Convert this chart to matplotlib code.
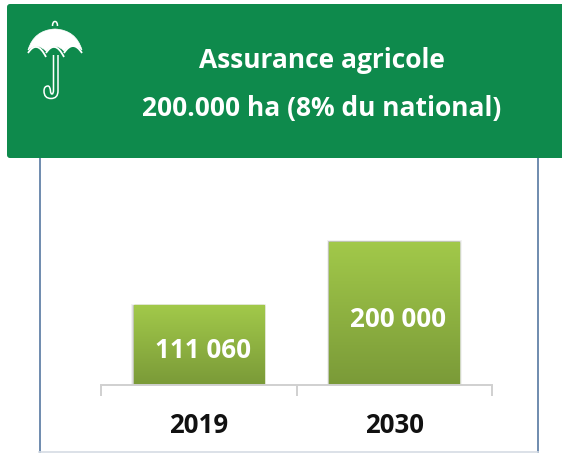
import numpy as np
import matplotlib
matplotlib.use("Agg")
import matplotlib.pyplot as plt
from matplotlib.patches import FancyBboxPatch, PathPatch, Rectangle
from matplotlib.path import Path
from matplotlib.colors import LinearSegmentedColormap

categories = ["2019", "2030"]
values = [111060, 200000]
value_labels = ["111 060", "200 000"]
title_lines = ["Assurance agricole", "200.000 ha (8% du national)"]

W, H = 562, 453
plt.rcParams["font.family"] = ["Open Sans", "DejaVu Sans"]
fig = plt.figure(figsize=(W / 100, H / 100), dpi=100, facecolor="white")

# pixel overlay for decoration
bg = fig.add_axes([0, 0, 1, 1], zorder=0)
bg.set_xlim(0, W); bg.set_ylim(H, 0); bg.axis("off")
for x in (39.5, 538):
    bg.plot([x, x], [150, H], color="#6F8BAE", lw=1.4, solid_capstyle="butt")
bg.plot([39, 538], [451.5, 451.5], color="#D5DCE4", lw=1.2)

top = fig.add_axes([0, 0, 1, 1], zorder=3)
top.set_xlim(0, W); top.set_ylim(H, 0); top.axis("off")
top.add_patch(FancyBboxPatch((9, 6), 570, 150, boxstyle="round,pad=2,rounding_size=3",
                             fc="#0E8A4C", ec="none", clip_on=True))
top.text(322, 60.5, title_lines[0], color="white", fontsize=19, fontweight="bold", ha="center", va="center")
top.text(322, 108.5, title_lines[1], color="white", fontsize=19, fontweight="bold", ha="center", va="center")

# umbrella
M, C, L = Path.MOVETO, Path.CURVE3, Path.LINETO
canopy = Path(
    [(28, 50), (34, 30), (55, 29), (76, 30), (82, 50),
     (72, 42), (64, 51), (56, 42), (46, 51), (37, 42), (28, 50)],
    [M, C, C, C, C, C, C, C, C, C, C])
top.add_patch(PathPatch(canopy, fc="white", ec="white", lw=0.5))
for xs, mid in (((28, 46), 37), ((46, 64), 55), ((64, 82), 73)):
    p = Path([(xs[0], 53), (mid, 39), (xs[1], 57 if xs[1] != 82 else 53)], [M, C, C])
    top.add_patch(PathPatch(p, fc="none", ec="white", lw=1.3))
knob = Path([(52.5, 26), (52.5, 21.5), (55, 21.5), (57.5, 21.5), (57.5, 26)], [M, C, C, C, C])
top.add_patch(PathPatch(knob, fc="none", ec="white", lw=1.1))
handle = Path([(58, 55), (58, 91), (58, 98.5), (51, 98.5), (44, 98.5), (44, 91),
               (44, 86), (48, 86), (50, 86), (50.5, 91), (50.5, 94), (52, 94),
               (53.5, 94), (53.5, 90), (53.5, 55)],
              [M, L, C, C, C, C, C, C, C, C, C, C, C, C, L])
top.add_patch(PathPatch(handle, fc="none", ec="white", lw=1.1))

# chart
base_y, axis_l, axis_r, axis_top = 385, 101, 492, 206
ax = fig.add_axes([axis_l / W, (H - base_y) / H, (axis_r - axis_l) / W, (base_y - axis_top) / H], zorder=2)
ax.patch.set_alpha(0)
ax.set_xlim(-0.5, 1.5)
ax.set_ylim(0, 250000)
x = np.arange(len(categories))
bars = ax.bar(x, values, width=0.665, color="#8DB13F", edgecolor="#97BC49", linewidth=1, zorder=2)
cmap = LinearSegmentedColormap.from_list("g", ["#A2C94A", "#7A9A38"])
grad = np.linspace(0, 1, 256).reshape(-1, 1)
for b, v in zip(bars, values):
    x0, w = b.get_x(), b.get_width()
    # soft shadow
    for i, a in enumerate((0.05, 0.08, 0.10)):
        pad = (3 - i) * 0.004
        ax.add_patch(Rectangle((x0 - pad, 0), w + 2 * pad, v + (3 - i) * 1300 * 0.5,
                               fc="black", ec="none", alpha=a, zorder=1.5))
    im = ax.imshow(grad, extent=(x0, x0 + w, 0, v), cmap=cmap, aspect="auto", zorder=2.5)
    im.set_clip_path(b)
ax.set_xlim(-0.5, 1.5); ax.set_ylim(0, 250000)
offsets = [(0.02, 48600), (0.02, 91800)]
for xi, lab, (dx, yy) in zip(x, value_labels, offsets):
    ax.text(xi + dx, yy, lab, color="white", fontsize=18.7, fontweight="bold", ha="center", va="center", zorder=4)

for s in ("top", "left", "right"):
    ax.spines[s].set_visible(False)
ax.spines["bottom"].set_color("#D0D0D0")
ax.spines["bottom"].set_linewidth(1.4)
ax.set_yticks([])
ax.set_xticks([-0.5, 0.5, 1.5])
ax.set_xticklabels([])
ax.tick_params(axis="x", length=8, width=1.4, color="#D0D0D0")
ax.set_xticks(x, minor=True)
ax.set_xticklabels(categories, minor=True, fontsize=18.6, fontweight="bold", color="#111111")
ax.tick_params(axis="x", which="minor", length=0, pad=19.5)

fig.savefig("out.png", dpi=100)
